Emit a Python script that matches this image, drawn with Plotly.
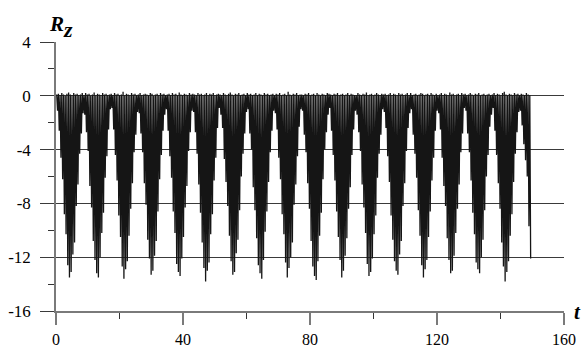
import plotly.graph_objects as go

# ---- data ----
T_START = 0.22      # time of first sample
HALF_STEP = 0.268   # sampling step of the fast oscillation

# troughs of each fast cycle, lobe by lobe
lobe_troughs = [
    [-1.1, -2.6, -4.6, -6.2, -8.8, -10.3, -12.6, -13.5, -13.1, -11.8, -10.9, -8.2, -6.6, -4.3, -2.8, -1.3],
    [-1.4, -2.7, -4.1, -6.7, -8.3, -10.8, -12.2, -13.2, -13.5, -12.0, -10.2, -8.7, -6.1, -4.5, -2.5, -1.0],
    [-0.9, -2.5, -4.4, -6.3, -8.9, -10.5, -12.7, -13.6, -12.9, -12.3, -10.4, -8.4, -6.5, -4.2, -2.9, -1.2],
    [-1.3, -2.8, -4.2, -6.5, -8.1, -10.7, -12.1, -13.3, -13.0, -11.9, -10.8, -8.6, -6.2, -4.4, -2.6, -1.4],
    [-1.0, -2.6, -4.5, -6.1, -8.6, -10.2, -12.5, -13.1, -13.4, -12.1, -10.5, -8.3, -6.7, -4.1, -2.7, -1.1],
    [-1.2, -2.7, -4.3, -6.6, -8.7, -10.9, -12.8, -13.8, -13.0, -12.4, -10.3, -8.8, -6.3, -4.6, -2.4, -0.9],
    [-1.4, -2.4, -4.7, -6.4, -8.2, -10.4, -12.3, -13.3, -13.1, -11.7, -10.7, -8.5, -6.0, -4.3, -2.8, -1.2],
    [-1.0, -2.8, -4.0, -6.8, -8.5, -10.6, -12.6, -13.2, -13.6, -12.2, -10.1, -8.6, -6.4, -4.2, -2.6, -1.1],
    [-1.3, -2.5, -4.6, -6.2, -8.8, -10.3, -12.4, -13.5, -12.8, -12.0, -10.9, -8.1, -6.6, -4.5, -2.3, -1.0],
    [-1.1, -2.9, -4.2, -6.5, -8.4, -10.8, -12.7, -13.4, -13.7, -12.3, -10.4, -8.7, -6.2, -4.0, -2.7, -1.4],
    [-0.9, -2.6, -4.4, -6.3, -8.6, -10.5, -12.2, -13.5, -13.0, -11.9, -10.6, -8.4, -6.8, -4.4, -2.5, -1.1],
    [-1.4, -2.7, -4.1, -6.6, -8.3, -10.2, -12.5, -13.4, -13.1, -12.1, -10.3, -8.9, -6.1, -4.3, -2.9, -1.0],
    [-1.2, -2.4, -4.5, -6.4, -8.9, -10.7, -12.3, -13.0, -13.3, -11.8, -10.8, -8.2, -6.5, -4.1, -2.4, -1.3],
    [-1.0, -2.9, -4.3, -6.1, -8.5, -10.4, -12.6, -13.5, -12.9, -12.2, -10.5, -8.6, -6.3, -4.6, -2.6, -1.1],
    [-1.3, -2.5, -4.6, -6.7, -8.2, -10.6, -12.2, -13.2, -13.0, -11.9, -10.2, -8.4, -6.6, -4.2, -2.8, -0.9],
    [-1.1, -2.8, -4.2, -6.3, -8.7, -10.3, -12.4, -12.9, -13.2, -12.0, -10.7, -8.5, -6.0, -4.4, -2.3, -1.4],
    [-0.9, -2.6, -4.4, -6.5, -8.4, -10.9, -12.7, -13.8, -13.1, -12.3, -10.4, -8.8, -6.4, -4.3, -2.7, -1.2],
    [-1.1, -2.2, -3.6, -4.8, -6.0, -9.7, -12.1],
]

# crests of each fast cycle, lobe by lobe
lobe_crests = [
    [0.10, 0.15, 0.05, 0.20, 0.10, 0.00, 0.15, 0.25, 0.10, 0.05, 0.20, 0.10, 0.15, 0.05, 0.10, 0.20],
    [0.05, 0.20, 0.10, 0.15, 0.00, 0.10, 0.25, 0.05, 0.15, 0.10, 0.05, 0.20, 0.10, 0.15, 0.05, 0.10],
    [0.15, 0.05, 0.20, 0.10, 0.15, 0.05, 0.10, 0.30, 0.05, 0.15, 0.10, 0.05, 0.20, 0.10, 0.15, 0.05],
    [0.10, 0.20, 0.05, 0.10, 0.15, 0.10, 0.05, 0.20, 0.15, 0.00, 0.10, 0.15, 0.05, 0.20, 0.10, 0.15],
    [0.05, 0.10, 0.15, 0.05, 0.20, 0.10, 0.15, 0.05, 0.25, 0.10, 0.05, 0.15, 0.10, 0.05, 0.20, 0.10],
    [0.15, 0.10, 0.05, 0.20, 0.10, 0.15, 0.05, 0.10, 0.20, 0.05, 0.15, 0.10, 0.20, 0.05, 0.10, 0.15],
    [0.10, 0.05, 0.20, 0.10, 0.05, 0.15, 0.25, 0.10, 0.05, 0.15, 0.10, 0.20, 0.05, 0.10, 0.15, 0.05],
    [0.20, 0.10, 0.15, 0.05, 0.10, 0.20, 0.05, 0.15, 0.10, 0.05, 0.20, 0.10, 0.15, 0.05, 0.10, 0.15],
    [0.05, 0.15, 0.10, 0.20, 0.05, 0.10, 0.15, 0.05, 0.30, 0.10, 0.05, 0.15, 0.10, 0.20, 0.05, 0.10],
    [0.10, 0.05, 0.15, 0.10, 0.20, 0.05, 0.10, 0.15, 0.05, 0.20, 0.10, 0.05, 0.15, 0.10, 0.05, 0.20],
    [0.15, 0.10, 0.05, 0.15, 0.10, 0.20, 0.05, 0.10, 0.15, 0.05, 0.10, 0.20, 0.05, 0.15, 0.10, 0.05],
    [0.05, 0.20, 0.10, 0.05, 0.15, 0.10, 0.25, 0.05, 0.10, 0.15, 0.05, 0.10, 0.20, 0.10, 0.05, 0.15],
    [0.10, 0.15, 0.05, 0.10, 0.20, 0.05, 0.15, 0.10, 0.05, 0.20, 0.10, 0.15, 0.05, 0.10, 0.20, 0.05],
    [0.20, 0.05, 0.10, 0.15, 0.05, 0.10, 0.20, 0.15, 0.05, 0.10, 0.15, 0.05, 0.20, 0.10, 0.05, 0.15],
    [0.05, 0.10, 0.20, 0.05, 0.15, 0.10, 0.05, 0.25, 0.10, 0.15, 0.05, 0.10, 0.15, 0.05, 0.20, 0.10],
    [0.15, 0.05, 0.10, 0.20, 0.10, 0.05, 0.15, 0.10, 0.20, 0.05, 0.10, 0.15, 0.05, 0.10, 0.15, 0.05],
    [0.10, 0.20, 0.05, 0.15, 0.10, 0.05, 0.20, 0.30, 0.10, 0.05, 0.15, 0.10, 0.05, 0.20, 0.10, 0.15],
    [0.05, 0.15, 0.10, 0.05, 0.20, 0.10, 0.05],
]

y_ticks = [-16, -12, -8, -4, 0, 4]
y_labels = ["-16", "-12", "-8", "-4", "0", "4"]
y_minor = [-14, -10, -6, -2, 2]
x_ticks = [0, 40, 80, 120, 160]
x_labels = ["0", "40", "80", "120", "160"]
x_minor = [20, 60, 100, 140]

# ---- build the series ----
t, rz = [], []
j = 0
for troughs, crests in zip(lobe_troughs, lobe_crests):
    for c, d in zip(crests, troughs):
        t.append(T_START + j * HALF_STEP)
        rz.append(c)
        j += 1
        t.append(T_START + j * HALF_STEP)
        rz.append(d)
        j += 1

FONT = "Liberation Serif"
GRID = "#3a3a3a"
AXIS = "#7a7a7a"

fig = go.Figure()
fig.add_trace(go.Scatter(
    x=t, y=rz, mode="lines",
    line=dict(color="#151515", width=1.3),
    hoverinfo="skip", showlegend=False,
))

fig.update_layout(
    width=586, height=349,
    margin=dict(l=56, r=22, t=42, b=38, autoexpand=False),
    paper_bgcolor="white", plot_bgcolor="white",
    font=dict(family=FONT, size=17, color="black"),
    xaxis=dict(
        range=[0, 160], tickvals=x_ticks, ticktext=x_labels,
        tickfont=dict(family=FONT, size=16, color="black"), automargin=False,
        showgrid=False, zeroline=False,
        showline=True, linecolor=AXIS, linewidth=1.5,
        ticks="outside", ticklen=12, tickcolor=AXIS, tickwidth=1.5,
        ticklabelstandoff=1,
        minor=dict(tickvals=x_minor, ticks="outside", ticklen=6,
                   tickcolor="#333", tickwidth=1, showgrid=False),
    ),
    yaxis=dict(
        range=[-16, 4], tickvals=y_ticks, ticktext=y_labels,
        tickfont=dict(family=FONT, size=17, color="black"), automargin=False,
        showgrid=True, gridcolor=GRID, gridwidth=1, zeroline=False,
        showline=True, linecolor=AXIS, linewidth=1.5,
        ticks="outside", ticklen=14, tickcolor=GRID, tickwidth=1,
        ticklabelstandoff=6,
        minor=dict(tickvals=y_minor, ticks="outside", ticklen=6,
                   tickcolor="#333", tickwidth=1, showgrid=False),
    ),
    annotations=[
        dict(text="<b><i>R</i></b>", xref="paper", yref="paper",
             x=0.0, y=1.074, yshift=-2, xanchor="center", yanchor="middle",
             showarrow=False, font=dict(family=FONT, size=21, color="black")),
        dict(text="<b><i>z</i></b>", xref="paper", yref="paper",
             x=0.0236, y=1.05, yshift=-1, xanchor="center", yanchor="middle",
             showarrow=False, font=dict(family=FONT, size=22, color="black")),
        dict(text="<b><i>t</i></b>", xref="paper", yref="paper",
             x=1.0, y=0.0, xshift=8, yshift=-1, xanchor="left", yanchor="middle",
             showarrow=False, font=dict(family=FONT, size=21, color="black")),
    ],
)

fig.write_html(
    "out.html",
    config={"displayModeBar": False},
    post_script="document.body.style.margin='0';document.body.style.padding='0';",
)
